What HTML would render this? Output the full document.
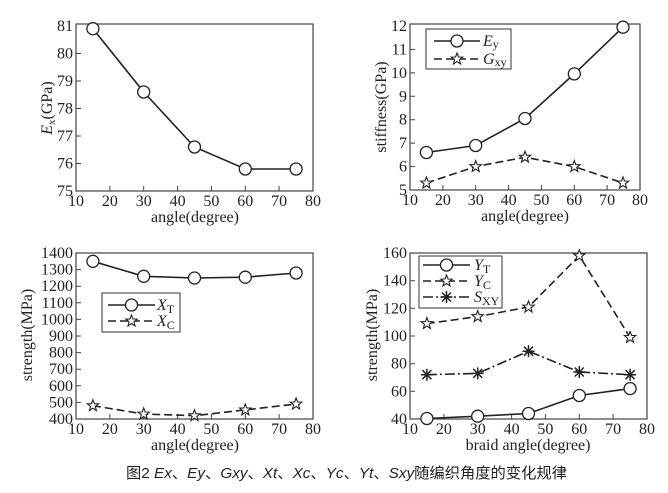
<!DOCTYPE html>
<html><head><meta charset="utf-8"><style>
html,body{margin:0;padding:0;background:#fff;width:668px;height:493px;overflow:hidden}
svg{display:block}
.t{font-family:"Liberation Serif",serif;font-size:16px;fill:#222}
.a{font-family:"Liberation Serif",serif;font-size:16px;fill:#222}
.ln{fill:none;stroke:#222;stroke-width:1.6}
.bx{fill:none;stroke:#444;stroke-width:1.2}
.tk{stroke:#444;stroke-width:1}
</style></head><body>
<svg width="668" height="493" viewBox="0 0 668 493" xmlns="http://www.w3.org/2000/svg">
<defs>
<symbol id="st" viewBox="-7 -7 14 14" overflow="visible"><path d="M0,-6 L1.5,-2 L5.7,-1.9 L2.4,0.8 L3.5,4.9 L0,2.5 L-3.5,4.9 L-2.4,0.8 L-5.7,-1.9 L-1.5,-2 Z" fill="#fff" stroke="#222" stroke-width="1.1"/></symbol>
<symbol id="ci" viewBox="-7 -7 14 14" overflow="visible"><circle r="6" fill="#fff" stroke="#222" stroke-width="1.3"/></symbol>
<symbol id="as" viewBox="-7 -7 14 14" overflow="visible"><path d="M-6,0H6M0,-6V6M-4.5,-4.5L4.5,4.5M-4.5,4.5L4.5,-4.5" stroke="#222" stroke-width="1.5"/></symbol>
</defs>

<!-- TL -->
<rect class="bx" x="76" y="24" width="237" height="167"/>
<g class="tk">
<path d="M109.9,191v-5M143.7,191v-5M177.6,191v-5M211.4,191v-5M245.3,191v-5M279.1,191v-5"/>
<path d="M76,53.5h5M76,81h5M76,108.5h5M76,136h5M76,163.5h5"/>
</g>
<g class="t" text-anchor="middle">
<text x="76" y="206">10</text><text x="109.9" y="206">20</text><text x="143.7" y="206">30</text><text x="177.6" y="206">40</text><text x="211.4" y="206">50</text><text x="245.3" y="206">60</text><text x="279.1" y="206">70</text><text x="313" y="206">80</text>
</g>
<g class="t" text-anchor="end">
<text x="73" y="31">81</text><text x="73" y="58.5">80</text><text x="73" y="86">79</text><text x="73" y="113.5">78</text><text x="73" y="141">77</text><text x="73" y="168.5">76</text><text x="73" y="196">75</text>
</g>
<text class="a" x="195" y="222" text-anchor="middle">angle(degree)</text>
<text class="a" transform="translate(52,108) rotate(-90)" text-anchor="middle"><tspan font-style="italic">E</tspan><tspan font-size="11" dy="3">x</tspan><tspan dy="-3">(GPa)</tspan></text>
<polyline class="ln" points="92.9,28.7 143.7,92 194.5,147 245.3,169 296.1,169"/>
<g><use href="#ci" x="85.9" y="21.7" width="14" height="14"/><use href="#ci" x="136.7" y="85" width="14" height="14"/><use href="#ci" x="187.5" y="140" width="14" height="14"/><use href="#ci" x="238.3" y="162" width="14" height="14"/><use href="#ci" x="289.1" y="162" width="14" height="14"/></g>

<!-- TR -->
<rect class="bx" x="410" y="24" width="230" height="166"/>
<g class="tk">
<path d="M442.9,190v-5M475.7,190v-5M508.6,190v-5M541.4,190v-5M574.3,190v-5M607.1,190v-5"/>
<path d="M410,166.6h5M410,143.1h5M410,119.7h5M410,96.3h5M410,72.9h5M410,49.4h5"/>
</g>
<g class="t" text-anchor="middle">
<text x="410" y="205">10</text><text x="442.9" y="205">20</text><text x="475.7" y="205">30</text><text x="508.6" y="205">40</text><text x="541.4" y="205">50</text><text x="574.3" y="205">60</text><text x="607.1" y="205">70</text><text x="640" y="205">80</text>
</g>
<g class="t" text-anchor="end">
<text x="407" y="31">12</text><text x="407" y="54.4">11</text><text x="407" y="77.9">10</text><text x="407" y="101.3">9</text><text x="407" y="124.7">8</text><text x="407" y="148.1">7</text><text x="407" y="171.6">6</text><text x="407" y="195">5</text>
</g>
<text class="a" x="525" y="221" text-anchor="middle">angle(degree)</text>
<text class="a" transform="translate(386,107) rotate(-90)" text-anchor="middle">stiffness(GPa)</text>
<polyline class="ln" points="426.4,152.5 475.7,145.5 525,118.5 574.3,73.9 623,27.2"/>
<polyline class="ln" stroke-dasharray="8,4" points="426.4,183 475.7,166.6 525,157.2 574.3,166.6 623,183"/>
<g><use href="#ci" x="419.4" y="145.5" width="14" height="14"/><use href="#ci" x="468.7" y="138.5" width="14" height="14"/><use href="#ci" x="518" y="111.5" width="14" height="14"/><use href="#ci" x="567.3" y="66.9" width="14" height="14"/><use href="#ci" x="616" y="20.2" width="14" height="14"/></g>
<g><use href="#st" x="419.4" y="176" width="14" height="14"/><use href="#st" x="468.7" y="159.6" width="14" height="14"/><use href="#st" x="518" y="150.2" width="14" height="14"/><use href="#st" x="567.3" y="159.6" width="14" height="14"/><use href="#st" x="616" y="176" width="14" height="14"/></g>
<rect x="426" y="29" width="85" height="40" fill="#fff" stroke="#333" stroke-width="1"/>
<path class="ln" d="M434,41H480"/><use href="#ci" x="450" y="34" width="14" height="14"/>
<path class="ln" stroke-dasharray="8,4" d="M434,59H480"/><use href="#st" x="450" y="52" width="14" height="14"/>
<text class="a" x="483" y="46"><tspan font-style="italic">E</tspan><tspan font-size="12" dy="2">y</tspan></text>
<text class="a" x="483" y="64"><tspan font-style="italic">G</tspan><tspan font-size="12" dy="2">xy</tspan></text>

<!-- BL -->
<rect class="bx" x="76" y="253" width="237" height="166"/>
<g class="tk">
<path d="M109.9,419v-5M143.7,419v-5M177.6,419v-5M211.4,419v-5M245.3,419v-5M279.1,419v-5"/>
<path d="M76,269.6h5M76,286.2h5M76,302.8h5M76,319.4h5M76,336h5M76,352.6h5M76,369.2h5M76,385.8h5M76,402.4h5"/>
</g>
<g class="t" text-anchor="middle">
<text x="76" y="434">10</text><text x="109.9" y="434">20</text><text x="143.7" y="434">30</text><text x="177.6" y="434">40</text><text x="211.4" y="434">50</text><text x="245.3" y="434">60</text><text x="279.1" y="434">70</text><text x="313" y="434">80</text>
</g>
<g class="t" text-anchor="end">
<text x="73" y="258">1400</text><text x="73" y="274.6">1300</text><text x="73" y="291.2">1200</text><text x="73" y="307.8">1100</text><text x="73" y="324.4">1000</text><text x="73" y="341">900</text><text x="73" y="357.6">800</text><text x="73" y="374.2">700</text><text x="73" y="390.8">600</text><text x="73" y="407.4">500</text><text x="73" y="424">400</text>
</g>
<text class="a" x="195" y="450" text-anchor="middle">angle(degree)</text>
<text class="a" transform="translate(32,335) rotate(-90)" text-anchor="middle">strength(MPa)</text>
<polyline class="ln" points="92.9,261.3 143.7,276.3 194.5,278 245.3,277.2 296.1,273"/>
<polyline class="ln" stroke-dasharray="8,4" points="92.9,405.7 143.7,414 194.5,415.7 245.3,409.9 296.1,404"/>
<g><use href="#ci" x="85.9" y="254.3" width="14" height="14"/><use href="#ci" x="136.7" y="269.3" width="14" height="14"/><use href="#ci" x="187.5" y="271" width="14" height="14"/><use href="#ci" x="238.3" y="270.2" width="14" height="14"/><use href="#ci" x="289.1" y="266" width="14" height="14"/></g>
<g><use href="#st" x="85.9" y="398.7" width="14" height="14"/><use href="#st" x="136.7" y="407" width="14" height="14"/><use href="#st" x="187.5" y="408.7" width="14" height="14"/><use href="#st" x="238.3" y="402.9" width="14" height="14"/><use href="#st" x="289.1" y="397" width="14" height="14"/></g>
<rect x="102" y="293" width="78" height="39" fill="#fff" stroke="#333" stroke-width="1"/>
<path class="ln" d="M108,305H155"/><use href="#ci" x="124.5" y="298" width="14" height="14"/>
<path class="ln" stroke-dasharray="8,4" d="M108,321H155"/><use href="#st" x="124.5" y="314" width="14" height="14"/>
<text class="a" x="157" y="310"><tspan font-style="italic">X</tspan><tspan font-size="12" dy="3">T</tspan></text>
<text class="a" x="157" y="326"><tspan font-style="italic">X</tspan><tspan font-size="12" dy="3">C</tspan></text>

<!-- BR -->
<rect class="bx" x="410" y="253" width="237" height="166"/>
<g class="tk">
<path d="M443.9,419v-5M477.7,419v-5M511.6,419v-5M545.4,419v-5M579.3,419v-5M613.1,419v-5"/>
<path d="M410,391.3h5M410,363.7h5M410,336h5M410,308.3h5M410,280.7h5"/>
</g>
<g class="t" text-anchor="middle">
<text x="410" y="434">10</text><text x="443.9" y="434">20</text><text x="477.7" y="434">30</text><text x="511.6" y="434">40</text><text x="545.4" y="434">50</text><text x="579.3" y="434">60</text><text x="613.1" y="434">70</text><text x="647" y="434">80</text>
</g>
<g class="t" text-anchor="end">
<text x="407" y="258">160</text><text x="407" y="285.7">140</text><text x="407" y="313.3">120</text><text x="407" y="341">100</text><text x="407" y="368.7">80</text><text x="407" y="396.3">60</text><text x="407" y="424">40</text>
</g>
<text class="a" x="528" y="450" text-anchor="middle">braid angle(degree)</text>
<text class="a" transform="translate(377,335) rotate(-90)" text-anchor="middle">strength(MPa)</text>
<polyline class="ln" points="426.9,418.5 477.7,416.2 528.5,413.5 579.3,395.5 630.1,388.6"/>
<polyline class="ln" stroke-dasharray="8,4" points="426.9,323.6 477.7,316.6 528.5,307 579.3,255.8 630.1,337.4"/>
<polyline class="ln" stroke-dasharray="10,3,2,3" points="426.9,374.7 477.7,373.4 528.5,351.2 579.3,372 630.1,374.7"/>
<g><use href="#ci" x="419.9" y="411.5" width="14" height="14"/><use href="#ci" x="470.7" y="409.2" width="14" height="14"/><use href="#ci" x="521.5" y="406.5" width="14" height="14"/><use href="#ci" x="572.3" y="388.5" width="14" height="14"/><use href="#ci" x="623.1" y="381.6" width="14" height="14"/></g>
<g><use href="#st" x="419.9" y="316.6" width="14" height="14"/><use href="#st" x="470.7" y="309.6" width="14" height="14"/><use href="#st" x="521.5" y="300" width="14" height="14"/><use href="#st" x="572.3" y="248.8" width="14" height="14"/><use href="#st" x="623.1" y="330.4" width="14" height="14"/></g>
<g><use href="#as" x="419.9" y="367.7" width="14" height="14"/><use href="#as" x="470.7" y="366.4" width="14" height="14"/><use href="#as" x="521.5" y="344.2" width="14" height="14"/><use href="#as" x="572.3" y="365" width="14" height="14"/><use href="#as" x="623.1" y="367.7" width="14" height="14"/></g>
<rect x="419" y="256" width="83" height="52" fill="#fff" stroke="#333" stroke-width="1"/>
<path class="ln" d="M423,265H470"/><use href="#ci" x="439.5" y="258" width="14" height="14"/>
<path class="ln" stroke-dasharray="8,4" d="M423,281H470"/><use href="#st" x="439.5" y="274" width="14" height="14"/>
<path class="ln" stroke-dasharray="10,3,2,3" d="M423,297H470"/><use href="#as" x="439.5" y="290" width="14" height="14"/>
<text class="a" x="474" y="270"><tspan font-style="italic">Y</tspan><tspan font-size="12" dy="3">T</tspan></text>
<text class="a" x="474" y="286"><tspan font-style="italic">Y</tspan><tspan font-size="12" dy="3">C</tspan></text>
<text class="a" x="474" y="302"><tspan font-style="italic">S</tspan><tspan font-size="12" dy="3">XY</tspan></text>

<!-- caption -->
<text x="126" y="478" textLength="441" lengthAdjust="spacingAndGlyphs" style="font-family:'Liberation Sans','Noto Sans CJK SC',sans-serif;font-size:15px;fill:#222">图2  <tspan font-style="italic">Ex</tspan>、<tspan font-style="italic">Ey</tspan>、<tspan font-style="italic">Gxy</tspan>、<tspan font-style="italic">Xt</tspan>、<tspan font-style="italic">Xc</tspan>、<tspan font-style="italic">Yc</tspan>、<tspan font-style="italic">Yt</tspan>、<tspan font-style="italic">Sxy</tspan>随编织角度的变化规律</text>
</svg>
</body></html>
